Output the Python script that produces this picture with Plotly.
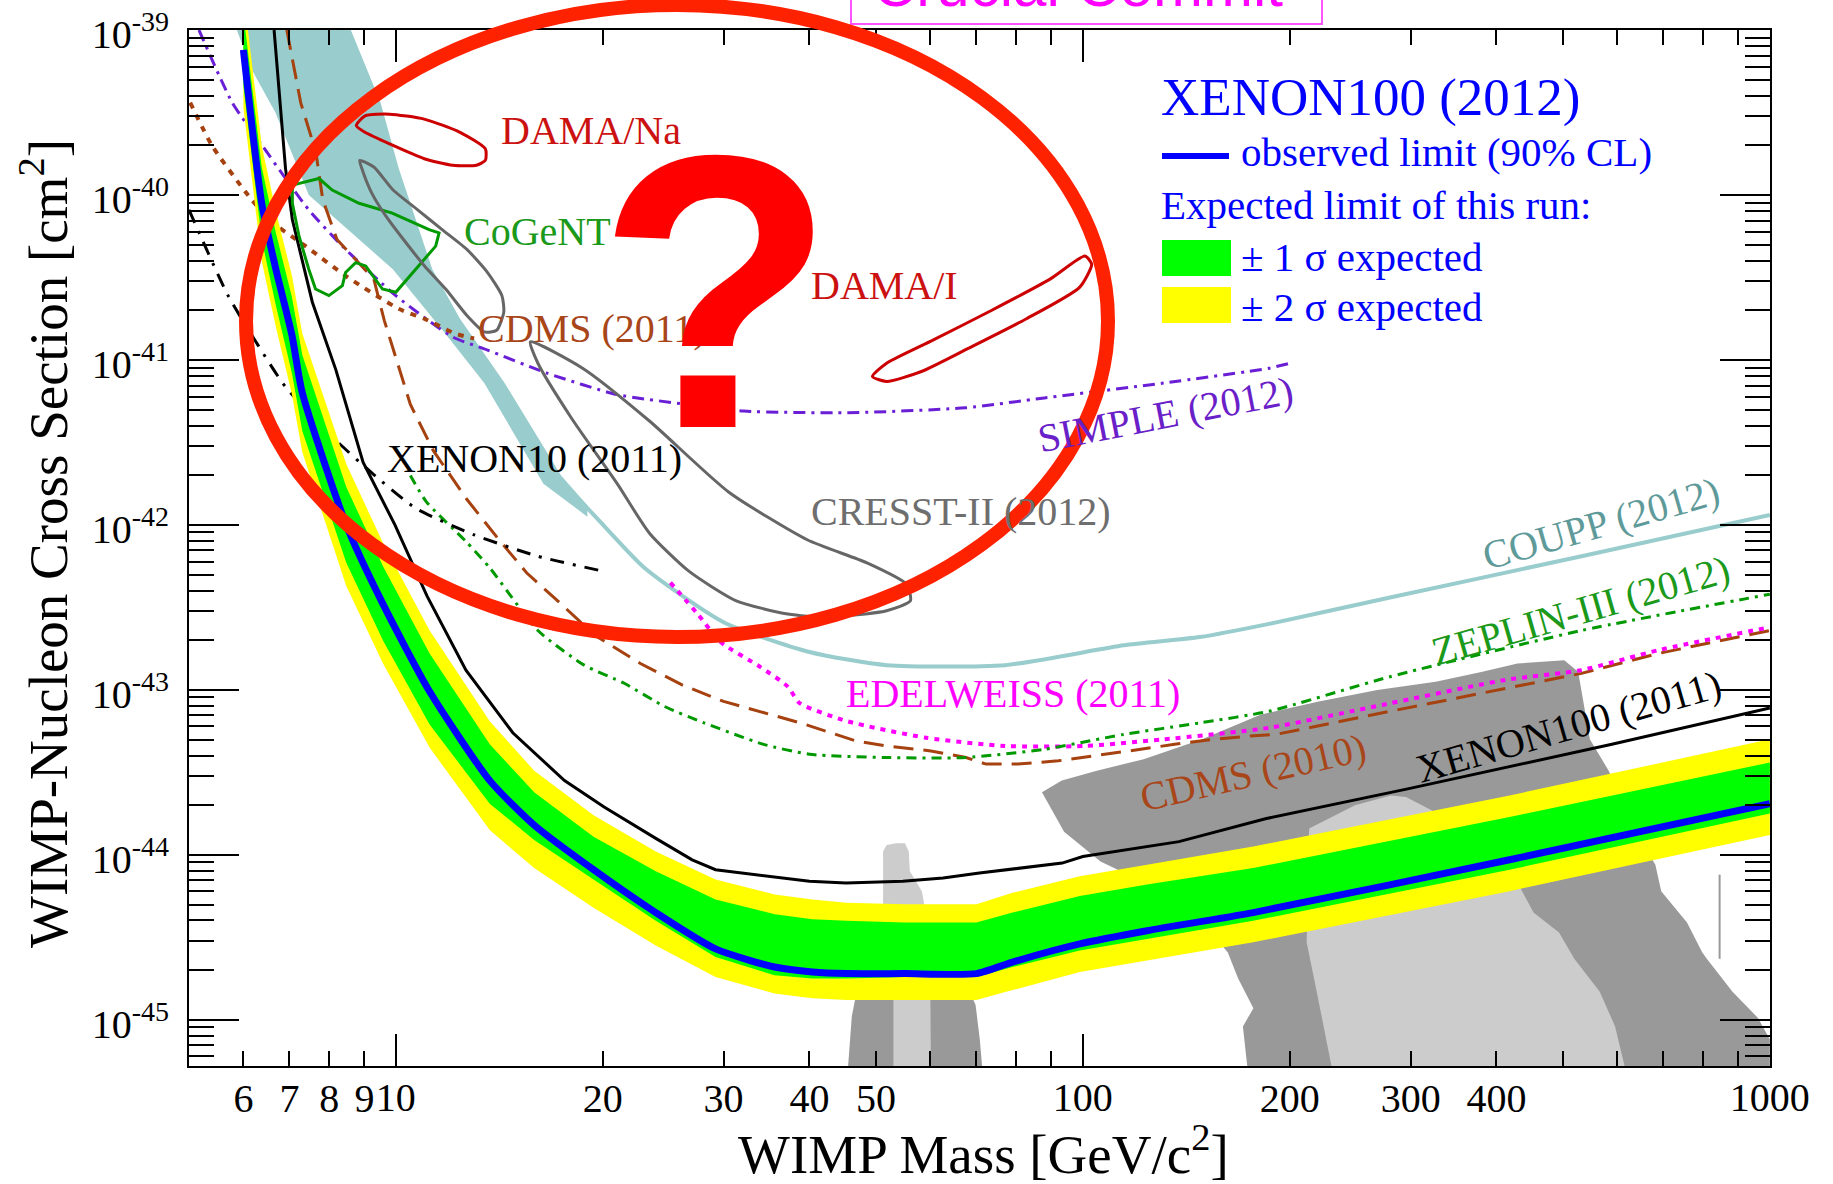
import math
import plotly.graph_objects as go

# ---------------------------------------------------------------------------
# Data.  Masses in GeV/c^2, cross sections given as
# log10(sigma / cm^2) (the chart is log-log).
# ---------------------------------------------------------------------------

# XENON100 (2012): observed limit and expected-sensitivity band edges
xe12_mass = [6.0, 6.38, 6.69, 7.06, 7.31, 8.47, 9.58, 11.2, 13.7, 15.9, 19.4, 23.9,
             29.2, 35.6, 40.4, 45.3, 55, 70, 79, 99, 124, 177, 418, 1000]
xe12_obs = [-39.12, -40.05, -40.45, -40.85, -41.2, -42.0, -42.48, -43.01, -43.55, -43.82,
            -44.09, -44.35, -44.57, -44.68, -44.71, -44.72, -44.72, -44.72, -44.65, -44.54,
            -44.46, -44.35, -44.03, -43.69]
xe12_2s_hi = [-38.77, -39.70, -40.10, -40.49, -40.84, -41.63, -42.11, -42.64, -43.19, -43.49,
              -43.76, -43.98, -44.15, -44.24, -44.27, -44.29, -44.30, -44.30, -44.23, -44.13,
              -44.06, -43.95, -43.64, -43.30]
xe12_1s_hi = [-38.90, -39.83, -40.23, -40.62, -40.97, -41.77, -42.25, -42.78, -43.33, -43.62,
              -43.89, -44.10, -44.27, -44.36, -44.39, -44.40, -44.41, -44.41, -44.35, -44.25,
              -44.18, -44.08, -43.77, -43.44]
xe12_1s_lo = [-39.34, -40.27, -40.67, -41.08, -41.43, -42.23, -42.70, -43.21, -43.69, -43.91,
              -44.15, -44.40, -44.62, -44.73, -44.75, -44.75, -44.74, -44.74, -44.68, -44.58,
              -44.51, -44.40, -44.09, -43.75]
xe12_2s_lo = [-39.47, -40.40, -40.80, -41.21, -41.56, -42.37, -42.84, -43.35, -43.85, -44.08,
              -44.32, -44.55, -44.74, -44.84, -44.87, -44.88, -44.88, -44.88, -44.82, -44.71,
              -44.64, -44.53, -44.22, -43.88]

# XENON100 (2011)
xe11_mass = [6.65, 6.91, 7.07, 7.56, 8.18, 8.96, 9.97, 11.1, 12.65, 14.8, 17.6, 20.1, 23.9,
             27.0, 29.2, 35.2, 40.0, 45.2, 54.7, 62.6, 70.7, 93.3, 100, 138, 185, 297, 589, 1000]
xe11_lim = [-39.0, -39.84, -40.15, -40.65, -41.06, -41.62, -42.0, -42.43, -42.88, -43.26,
            -43.55, -43.71, -43.90, -44.03, -44.09, -44.13, -44.16, -44.17, -44.16, -44.14,
            -44.11, -44.05, -44.01, -43.92, -43.78, -43.60, -43.33, -43.11]

# XENON10 (2011)
xe10_mass = [5.0, 5.7, 6.3, 6.9, 8.1, 9.2, 10.7, 13.0, 16.1, 20.0]
xe10_lim = [-40.09, -40.61, -40.91, -41.16, -41.47, -41.68, -41.90, -42.06, -42.19, -42.28]

# CDMS (2011) low-threshold
cdms11_mass = [5.02, 5.4, 6.04, 6.54, 7.39, 8.45, 10.1, 11.0, 12.2, 13.0]
cdms11_lim = [-39.44, -39.70, -39.98, -40.15, -40.31, -40.49, -40.69, -40.75, -40.84, -40.87]

# CDMS (2010)
cdms10_mass = [6.94, 7.27, 7.65, 7.83, 8.21, 9.29, 9.62, 10.1, 10.5, 11.34, 12.66, 14.07,
               15.5, 17.3, 19.5, 22.7, 26.1, 30.0, 34.4, 38.8, 46.8, 51.7, 60.1, 67.6, 72.3,
               80.4, 92.1, 104.5, 121.4, 136, 154.8, 175.4, 191, 280, 532, 687, 1000]
cdms10_lim = [-39.0, -39.44, -39.74, -40.03, -40.27, -40.51, -40.76, -41.04, -41.27, -41.55,
              -41.84, -42.08, -42.29, -42.47, -42.67, -42.84, -42.97, -43.07, -43.14, -43.20,
              -43.31, -43.34, -43.37, -43.41, -43.45, -43.45, -43.43, -43.40, -43.36, -43.33,
              -43.30, -43.28, -43.27, -43.13, -42.90, -42.78, -42.64]

# SIMPLE (2012)
simple_mass = [5.17, 5.78, 6.39, 6.91, 7.47, 8.36, 10.0, 12.09, 13.6, 16.6, 21.0, 26.6, 32.1,
               45.4, 67.5, 87.9, 131, 186.6, 200]
simple_lim = [-39.0, -39.44, -39.70, -39.90, -40.09, -40.31, -40.61, -40.86, -40.94, -41.08,
              -41.21, -41.27, -41.31, -41.32, -41.29, -41.23, -41.14, -41.05, -41.02]

# COUPP (2012): low-mass band edges and limit line
coupp_band_left_mass = [5.87, 6.17, 6.68, 7.47, 9.9, 11.8, 13.45, 16.4, 19.0]
coupp_band_left = [-39.0, -39.24, -39.50, -40.0, -40.45, -40.84, -41.14, -41.75, -41.95]
coupp_band_right_mass = [8.6, 9.5, 10.1, 11.3, 12.4, 14.4, 17.4, 19.0]
coupp_band_right = [-39.0, -39.44, -39.84, -40.45, -40.75, -41.14, -41.70, -41.88]
coupp_mass = [17.0, 18.6, 23.0, 30.0, 40.0, 51.8, 77.1, 114.7, 148, 186.7, 280, 532, 1000]
coupp_lim = [-41.74, -41.86, -42.26, -42.59, -42.77, -42.85, -42.85, -42.73, -42.68, -42.60,
             -42.44, -42.19, -41.94]

# EDELWEISS (2011)
edw_mass = [25.1, 27.5, 29.7, 33.9, 37.2, 38.7, 45.4, 59.1, 77.1, 100.5, 130.9, 186.6, 246,
            412, 532, 687, 1000]
edw_lim = [-42.35, -42.54, -42.71, -42.86, -42.98, -43.08, -43.19, -43.29, -43.34, -43.34,
           -43.30, -43.23, -43.13, -42.94, -42.88, -42.76, -42.62]

# ZEPLIN-III (2012)
zep_mass = [10.5, 11.08, 12.65, 13.7, 16.1, 18.8, 21.5, 24.6, 28.1, 34.3, 40, 51.8, 67.5,
            87.9, 114.7, 148, 186.6, 280, 532, 1000]
zep_lim = [-41.70, -41.86, -42.10, -42.26, -42.64, -42.85, -42.96, -43.10, -43.20, -43.33,
           -43.39, -43.41, -43.41, -43.36, -43.27, -43.20, -43.13, -42.92, -42.64, -42.42]

# Closed signal contours
dama_na_mass = [8.76, 9.02, 9.79, 11.0, 12.4, 13.5, 13.5, 13.1, 12.1, 11.0, 9.79, 9.02, 8.76]
dama_na_sig = [-39.58, -39.52, -39.51, -39.54, -39.62, -39.72, -39.79, -39.82, -39.82, -39.78,
               -39.69, -39.62, -39.58]
dama_i_mass = [49.4, 51.8, 60.5, 73.6, 89.6, 100.7, 103, 98.9, 82.8, 68.1, 58.2, 51.8, 49.4]
dama_i_sig = [-41.10, -41.02, -40.88, -40.70, -40.51, -40.37, -40.42, -40.56, -40.75, -40.93,
              -41.07, -41.13, -41.10]
cogent_mass = [7.07, 7.73, 8.08, 8.84, 9.88, 11.18, 11.56, 11.43, 10.69, 10.0, 9.56, 9.04, 8.74,
               8.45, 8.36, 7.99, 7.64, 7.47, 7.23, 7.07, 7.07]
cogent_sig = [-39.94, -39.90, -39.97, -40.05, -40.11, -40.21, -40.23, -40.31, -40.45, -40.59,
              -40.57, -40.43, -40.41, -40.47, -40.55, -40.61, -40.57, -40.45, -40.25, -40.05,
              -39.94]
cresst1_mass = [8.86, 9.29, 9.91, 10.76, 11.68, 12.69, 13.6, 14.27, 14.36, 14.02, 13.46, 12.69,
                11.82, 11.01, 10.26, 9.68, 9.23, 8.96, 8.86]
cresst1_sig = [-39.79, -39.83, -39.97, -40.09, -40.21, -40.33, -40.47, -40.61, -40.71, -40.82,
               -40.83, -40.73, -40.57, -40.43, -40.27, -40.13, -39.99, -39.86, -39.79]
cresst2_mass = [15.7, 18.7, 23.4, 30.5, 39.7, 48.5, 55.4, 56.1, 51.8, 42.4, 37.2, 31.3, 26.7,
                23.4, 21.0, 18.0, 16.1, 15.7]
cresst2_sig = [-40.89, -41.05, -41.37, -41.80, -42.09, -42.23, -42.36, -42.46, -42.52, -42.56,
               -42.54, -42.46, -42.28, -42.05, -41.75, -41.35, -41.02, -40.89]

# Theory (CMSSM) regions, dark and light grey
susy_dark_mass = [87.2, 93.2, 104.8, 122.6, 149.1, 181.3, 220.5, 268.3, 326.3, 381.6, 429.2,
                  502, 526, 547, 582.6, 622.6, 681.3, 694.8, 757.5, 797, 809.5, 882.3, 961.6,
                  1000, 1000, 173.7, 171, 177.1, 168.3, 162.5, 149.1, 127.5, 106.1, 93.9, 87.2]
susy_dark_sig = [-43.62, -43.55, -43.49, -43.42, -43.30, -43.15, -43.07, -43.00, -42.95, -42.89,
                 -42.84, -42.82, -42.89, -43.30, -43.49, -43.78, -44.06, -44.22, -44.41, -44.59,
                 -44.63, -44.83, -44.99, -45.12, -45.3, -45.3, -45.04, -44.93, -44.75, -44.59,
                 -44.41, -44.20, -44.04, -43.86, -43.62]
susy_dark2_mass = [45.5, 46.1, 47.0, 48.8, 66.8, 69.8, 70.8, 71.4]
susy_dark2_sig = [-45.3, -44.98, -44.80, -44.73, -44.73, -44.91, -45.12, -45.3]
susy_light_mass = [213.5, 249, 280.6, 295.4, 321.8, 362.6, 415.7, 452.9, 493.3, 519.2, 565.5,
                   595.3, 616.1, 230.6, 219.0, 211.7, 213.5]
susy_light_sig = [-43.84, -43.70, -43.64, -43.65, -43.73, -43.86, -44.06, -44.35, -44.47,
                  -44.63, -44.83, -45.04, -45.3, -45.3, -44.83, -44.53, -43.84]
susy_light2_mass = [51.2, 51.8, 53.5, 55.1, 55.8, 56.0, 58.3, 59.9, 60.1, 53.0, 53.0, 51.2, 51.2]
susy_light2_sig = [-43.98, -43.94, -43.93, -43.93, -43.98, -44.10, -44.22, -44.49, -45.3, -45.3,
                   -44.63, -44.41, -43.98]
susy_spike_mass = [845, 845]
susy_spike_sig = [-44.12, -44.63]

# Curve labels: text, mass, log10 sigma, colour, angle, anchor
curve_labels = [
    ("DAMA/Na", 14.13, -39.61, "#cc1111", 0, "left"),
    ("CoGeNT", 12.49, -40.22, "#1a991a", 0, "left"),
    ("CDMS (2011)", 13.09, -40.81, "#a8461a", 0, "left"),
    ("DAMA/I", 39.95, -40.55, "#cc1111", 0, "left"),
    ("XENON10 (2011)", 9.65, -41.60, "#000000", 0, "left"),
    ("CRESST-II (2012)", 39.95, -41.92, "#6e6e6e", 0, "left"),
    ("EDELWEISS (2011)", 44.9, -43.02, "#ff00ff", 0, "left"),
    ("SIMPLE (2012)", 131.9, -41.33, "#6a20c8", -11, "center"),
    ("COUPP (2012)", 567.5, -41.99, "#5f9a9a", -16, "center"),
    ("ZEPLIN-III (2012)", 530.5, -42.52, "#1a991a", -16, "center"),
    ("CDMS (2010)", 177.0, -43.50, "#a8461a", -13, "center"),
    ("XENON100 (2011)", 509.4, -43.22, "#000000", -16, "center"),
]

# ---------------------------------------------------------------------------
SERIF = "Liberation Serif, Times New Roman, serif"
SANS = "Liberation Sans, Arial, sans-serif"
W, H = 1833, 1184
ML, MR, MT, MB = 189, 63, 30, 118
PW, PH = W - ML - MR, H - MT - MB


def px(xp):
    return (xp - ML) / PW


def py(yp):
    return (H - MB - yp) / PH


def sig(vals):
    return [10 ** v for v in vals]


fig = go.Figure()


def add_fill(mass, logs, color, line_color=None, width=0):
    fig.add_trace(go.Scatter(x=mass, y=sig(logs), mode="lines", fill="toself",
                             fillcolor=color,
                             line=dict(color=line_color or color, width=width),
                             hoverinfo="skip", showlegend=False))


def add_line(mass, logs, color, width=3, dash="solid", shape="spline"):
    fig.add_trace(go.Scatter(x=mass, y=sig(logs), mode="lines",
                             line=dict(color=color, width=width, dash=dash, shape=shape,
                                       smoothing=0.6),
                             hoverinfo="skip", showlegend=False))


# theory regions
add_fill(susy_dark_mass, susy_dark_sig, "#999999")
add_fill(susy_dark2_mass, susy_dark2_sig, "#999999")
add_fill(susy_light_mass, susy_light_sig, "#cccccc")
add_fill(susy_light2_mass, susy_light2_sig, "#cccccc")
add_line(susy_spike_mass, susy_spike_sig, "#999999", width=2, shape="linear")

# COUPP band
add_fill(coupp_band_left_mass + coupp_band_right_mass[::-1],
         coupp_band_left + coupp_band_right[::-1], "#99cccc")

# other limits
add_line(coupp_mass, coupp_lim, "#99cccc", width=4)
add_line(simple_mass, simple_lim, "#6a1fd6", width=3, dash="12px,6px,3px,6px")
add_line(cdms11_mass, cdms11_lim, "#a5420f", width=4, dash="6px,7px")
add_line(cdms10_mass, cdms10_lim, "#a5420f", width=3, dash="20px,10px", shape="linear")
add_line(edw_mass, edw_lim, "#ff00ff", width=4, dash="5px,6px")
add_line(zep_mass, zep_lim, "#009900", width=3, dash="10px,6px,3px,6px")
add_line(xe10_mass, xe10_lim, "#000000", width=3, dash="14px,9px,3px,9px")
add_line(xe11_mass, xe11_lim, "#000000", width=3, shape="linear")

# contours
add_line(dama_na_mass, dama_na_sig, "#cc0000", width=3)
add_line(dama_i_mass, dama_i_sig, "#cc0000", width=3)
add_line(cogent_mass, cogent_sig, "#009900", width=3, shape="linear")
add_line(cresst1_mass, cresst1_sig, "#666666", width=3)
add_line(cresst2_mass, cresst2_sig, "#666666", width=3)

# XENON100 (2012) expected band and observed limit
add_fill(xe12_mass + xe12_mass[::-1], xe12_2s_hi + xe12_2s_lo[::-1], "#ffff00")
add_fill(xe12_mass + xe12_mass[::-1], xe12_1s_hi + xe12_1s_lo[::-1], "#00ff00")
add_line(xe12_mass, xe12_obs, "#0000ff", width=7)

# invisible traces so that the minor-tick overlay axes exist
for xa, ya in (("x2", "y2"), ("x3", "y2")):
    fig.add_trace(go.Scatter(x=[1.0], y=[1e-50], xaxis=xa, yaxis=ya, mode="markers",
                             marker=dict(opacity=0), hoverinfo="skip", showlegend=False))

# ---------------------------------------------------------------------------
X_RANGE = [math.log10(5), 3.0002]
Y_RANGE = [-45.28, -38.9998]
major_x = [10, 100, 1000]
labeled_minor_x = [6, 7, 8, 9, 20, 30, 40, 50, 200, 300, 400]
plain_minor_x = [60, 70, 80, 90, 500, 600, 700, 800, 900]
major_y = [10.0 ** e for e in range(-45, -38)]
minor_y = [m * 10.0 ** e for e in range(-46, -39) for m in range(2, 10)]

tickfont = dict(family=SERIF, size=40, color="black")
common = dict(type="log", showgrid=False, zeroline=False, ticks="inside", tickwidth=2,
              tickcolor="black", mirror="ticks", automargin=False)

fig.update_layout(
    width=W, height=H, autosize=False,
    margin=dict(l=ML, r=MR, t=MT, b=MB, pad=0, autoexpand=False),
    paper_bgcolor="white", plot_bgcolor="white", showlegend=False,
    xaxis=dict(**common, range=X_RANGE, tickvals=major_x, ticktext=[str(v) for v in major_x],
               ticklen=32, showline=True, linecolor="black", linewidth=2,
               tickfont=tickfont, ticklabelstandoff=-5),
    xaxis2=dict(**common, range=X_RANGE, overlaying="x", anchor="y", side="bottom",
                tickvals=labeled_minor_x, ticktext=[str(v) for v in labeled_minor_x],
                ticklen=15, showline=False, tickfont=tickfont, ticklabelstandoff=5),
    xaxis3=dict(**common, range=X_RANGE, overlaying="x", anchor="y", side="bottom",
                tickvals=plain_minor_x, showticklabels=False, ticklen=15, showline=False),
    yaxis=dict(**common, range=Y_RANGE, tickvals=major_y,
               ticktext=["10<sup>%d</sup>" % e for e in range(-45, -38)],
               ticklen=50, showline=True, linecolor="black", linewidth=2,
               tickfont=tickfont, ticklabelstandoff=10, ticklabelshift=4),
    yaxis2=dict(**common, range=Y_RANGE, overlaying="y", anchor="x", side="left",
                tickvals=minor_y, showticklabels=False, ticklen=25, showline=False),
)

ann = []
for text, m, s, col, ang, anc in curve_labels:
    ann.append(dict(x=math.log10(m), y=s, xref="x", yref="y", text=text, showarrow=False,
                    xanchor=anc, yanchor="middle", textangle=ang,
                    font=dict(family=SERIF, size=40, color=col)))

# axis titles
ann.append(dict(x=px(983), y=py(1150), xref="paper", yref="paper", showarrow=False,
                text="WIMP Mass [GeV/c<sup>2</sup>]", xanchor="center", yanchor="middle",
                font=dict(family=SERIF, size=55, color="black")))
ann.append(dict(x=px(44), y=py(544), xref="paper", yref="paper", showarrow=False,
                text="WIMP-Nucleon Cross Section [cm<sup>2</sup>]", textangle=-90,
                xanchor="center", yanchor="middle",
                font=dict(family=SERIF, size=55, color="black")))

# legend
LEG = "#0000ff"
ann.append(dict(x=px(1159), y=py(97), xref="paper", yref="paper", showarrow=False,
                text="XENON100 (2012)", xanchor="left", yanchor="middle",
                font=dict(family=SERIF, size=53, color=LEG)))
for txt, xx, yy in [("observed limit (90% CL)", 1239, 152),
                    ("Expected limit of this run:", 1159, 205),
                    ("\u00b1 1 \u03c3 expected", 1239, 257),
                    ("\u00b1 2 \u03c3 expected", 1239, 307)]:
    ann.append(dict(x=px(xx), y=py(yy), xref="paper", yref="paper", showarrow=False,
                    text=txt, xanchor="left", yanchor="middle",
                    font=dict(family=SERIF, size=41, color=LEG)))

# top magenta box text (cut off by the page edge)
ann.append(dict(x=px(1078), y=py(21), xref="paper", yref="paper", showarrow=False,
                text="Crucial Commit", xanchor="center", yanchor="bottom",
                font=dict(family=SANS, size=60, color="#ff00ff")))

# big question mark
ann.append(dict(x=px(716), y=py(292), xref="paper", yref="paper", showarrow=False,
                text="<b>?</b>", xanchor="center", yanchor="middle",
                font=dict(family=SANS, size=390, color="#ff0000")))

fig.update_layout(annotations=ann)

shapes = [
    dict(type="line", xref="paper", yref="paper", x0=px(1162), x1=px(1229), y0=py(156),
         y1=py(156), line=dict(color="#0000ff", width=6)),
    dict(type="rect", xref="paper", yref="paper", x0=px(1162), x1=px(1231), y0=py(276),
         y1=py(240), fillcolor="#00ff00", line=dict(width=0)),
    dict(type="rect", xref="paper", yref="paper", x0=px(1162), x1=px(1231), y0=py(323),
         y1=py(287), fillcolor="#ffff00", line=dict(width=0)),
    dict(type="rect", xref="paper", yref="paper", x0=px(851), x1=px(1322), y0=py(24),
         y1=py(-40), fillcolor="rgba(255,255,255,0)", line=dict(color="#ff55ff", width=2)),
    dict(type="circle", xref="paper", yref="paper", x0=px(246), x1=px(1108), y0=py(637),
         y1=py(5), line=dict(color="#ff2200", width=14)),
]
fig.update_layout(shapes=shapes)

fig.write_html("out.html", config={"displayModeBar": False},
               post_script="document.body.style.margin='0px';document.body.style.overflow='hidden';")
